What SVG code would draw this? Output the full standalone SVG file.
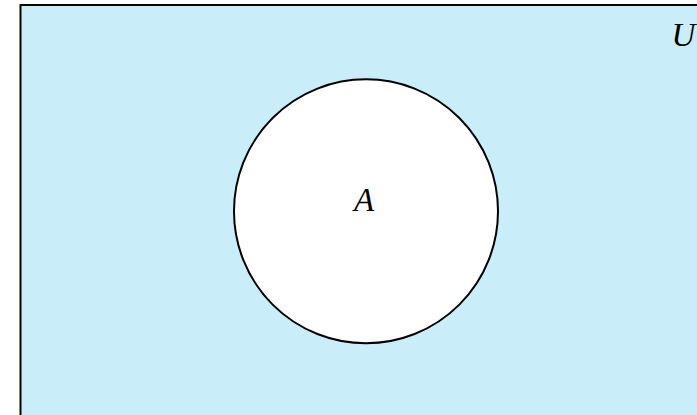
<svg xmlns="http://www.w3.org/2000/svg" width="697" height="415" viewBox="0 0 697 415">
<style>
.lbl{font-family:"Liberation Serif","Times New Roman",serif;font-style:italic;font-size:33px;fill:#000}
</style>
<rect width="697" height="415" fill="#fff"/>
<g id="universe">
<rect x="20.5" y="5" width="700" height="420" fill="#c9eefa" stroke="#000" stroke-width="2"/>
<text class="lbl" x="683.5" y="46" text-anchor="middle">U</text>
</g>
<g id="setA">
<circle cx="366" cy="211.3" r="132" fill="#fff" stroke="#000" stroke-width="2"/>
<text class="lbl" x="364" y="211" text-anchor="middle">A</text>
</g>
<g id="connectors"></g>
</svg>
